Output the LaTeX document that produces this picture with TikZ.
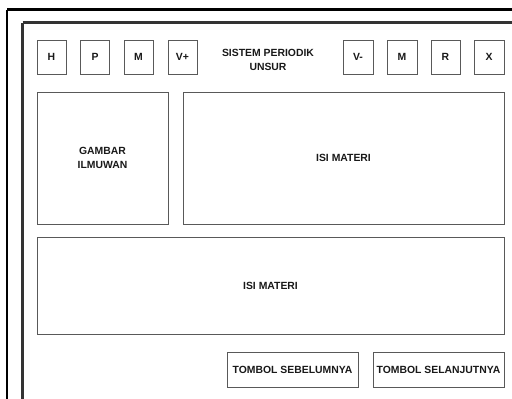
\documentclass[tikz,border=0pt]{standalone}
\usepackage{fontspec}
\setmainfont{Liberation Sans}
\begin{document}
\begin{tikzpicture}[x=1pt,y=-1pt,
  box/.style={draw=black!65, line width=1pt, fill=white, inner sep=0pt, font=\fontsize{10.4}{13.5}\selectfont\bfseries, text=black!90, align=center},
  outerframe/.style={draw=black, line width=2.6pt},
  innerframe/.style={draw=black!80, line width=2.4pt}]
\useasboundingbox (0,0) rectangle (512,399);
\begin{scope}
\clip (0,0) rectangle (512,399);
\draw[outerframe] (7,9.5) -- (530,9.5) (7,9.5) -- (7,420);
\draw[innerframe] (22.5,22.5) -- (530,22.5) (22.5,22.5) -- (22.5,420);
\end{scope}
% top buttons
\node[box, minimum width=29pt, minimum height=34pt] (h) at (51.5,57) {H};
\node[box, minimum width=29pt, minimum height=34pt] (p) at (95,57) {P};
\node[box, minimum width=29pt, minimum height=34pt] (m1) at (138.5,57) {M};
\node[box, minimum width=29pt, minimum height=34pt] (vp) at (182.5,57) {V+};
\node[font=\fontsize{10.4}{14}\selectfont\bfseries, text=black!90, align=center] (title) at (268,60) {SISTEM PERIODIK\\UNSUR};
\node[box, minimum width=30pt, minimum height=34pt] (vm) at (358,57) {V-};
\node[box, minimum width=30pt, minimum height=34pt] (m2) at (402,57) {M};
\node[box, minimum width=29pt, minimum height=34pt] (r) at (445.5,57) {R};
\node[box, minimum width=30pt, minimum height=34pt] (x) at (489,57) {X};
% content boxes
\node[box, minimum width=131pt, minimum height=132pt] (gambar) at (102.5,158) {GAMBAR\\ILMUWAN};
\node[box, minimum width=321pt, minimum height=132pt] (isi1) at (343.5,158) {ISI MATERI};
\node[box, minimum width=467pt, minimum height=97pt] (isi2) at (270.5,285.5) {ISI MATERI};
% bottom buttons
\node[box, minimum width=131pt, minimum height=35pt] (prev) at (292.5,369.5) {TOMBOL SEBELUMNYA};
\node[box, minimum width=131pt, minimum height=35pt] (next) at (438.5,369.5) {TOMBOL SELANJUTNYA};
\end{tikzpicture}
\end{document}
